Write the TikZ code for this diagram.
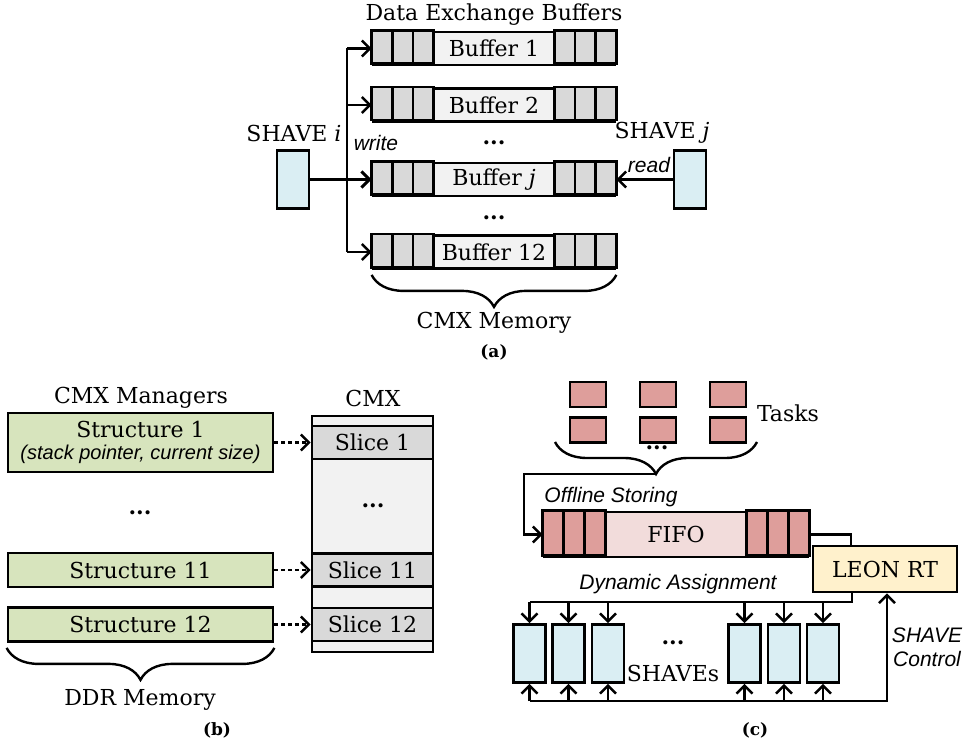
\documentclass[tikz,border=0pt]{standalone}
\usepackage{fontspec}
\setmainfont{DejaVu Serif}
\setsansfont{Liberation Sans}
\usetikzlibrary{arrows.meta, positioning, calc, decorations.pathreplacing}

\definecolor{cellgray}{RGB}{217,217,217}
\definecolor{lightgray}{RGB}{242,242,242}
\definecolor{shaveblue}{RGB}{218,238,243}
\definecolor{mgrgreen}{RGB}{215,228,189}
\definecolor{taskpink}{RGB}{222,158,155}
\definecolor{fifopink}{RGB}{242,220,219}
\definecolor{leonyellow}{RGB}{255,241,204}

\begin{document}
\begin{tikzpicture}[x=1pt, y=-1pt,
        font=\fontsize{22}{25}\selectfont,
        box/.style={rectangle, draw, line width=2.8pt, inner sep=0pt},
        buf/.style={box, fill=lightgray, minimum width=242pt, minimum height=33pt},
        cell/.style={draw, line width=2.8pt, fill=cellgray},
        tcell/.style={draw, line width=2.8pt, fill=taskpink},
        shv/.style={box, fill=shaveblue, minimum width=32pt, minimum height=58pt},
        mgr/.style={box, fill=mgrgreen, minimum width=265pt, minimum height=34pt, align=center},
        slc/.style={box, fill=cellgray, minimum width=121pt, minimum height=33pt},
        tsk/.style={box, fill=taskpink, minimum width=36pt, minimum height=25pt},
        lab/.style={font=\fontsize{21}{24}\selectfont\sffamily\itshape},
        dts/.style={font=\fontsize{22}{25}\selectfont\bfseries},
        arr/.style={-{Straight Barb[length=8pt,width=16pt]}, line width=2.4pt},
        con/.style={line width=2.4pt},
        brc/.style={decorate, decoration={brace, amplitude=32pt, mirror}, line width=2.4pt},
        sub/.style={font=\fontsize{17}{20}\selectfont\bfseries}]
  \useasboundingbox (0,0) rectangle (971,743);

  % (a) data exchange buffers
  \node (dxb) at (494,15) {Data Exchange Buffers};
  \node[buf] (b1) at (494,48.5) {Buffer 1};
  \node[buf] (b2) at (494,105) {Buffer 2};
  \node[buf] (bj) at (494,179.5) {Buffer \textit{j}};
  \node[buf] (b12) at (494,252) {Buffer 12};
  \foreach \b in {b1,b2,bj,b12}
    \foreach \k in {0,1,2} {
      \draw[cell] ($(\b.north west)+(\k*20.7,0)$) rectangle ++(20.7,33);
      \draw[cell] ($(\b.north east)+(-\k*20.7,0)$) rectangle ++(-20.7,33);
    }
  \node[dts] (d1) at (494,143) {...};
  \node[dts] (d2) at (494,218) {...};

  \node[shv] (shi) at (293,179.5) {};
  \node (shil) at (294,133) {SHAVE \textit{i}};
  \node[shv] (shj) at (690,179.5) {};
  \node (shjl) at (662,133) {SHAVE \textit{j}};

  \coordinate (wr) at (347,0);
  \draw[con] (wr |- b1.west) -- (wr |- b12.west);
  \foreach \b in {b1,b2,b12}
    \draw[arr] (wr |- \b.west) -- (\b.west);
  \draw[arr, line width=3pt] (shi) -- (bj);
  \draw[arr] (shj) -- (bj);
  \node[lab] at (376,143) {write};
  \node[lab] at (649,165) {read};

  \draw[brc] ([yshift=-5pt]b12.south west) -- ([yshift=-5pt]b12.south east);
  \node (cmxmem) at (494,323) {CMX Memory};
  \node[sub] at (494,352) {(a)};

  % (b) CMX managers
  \node (cmxm) at (141,398) {CMX Managers};
  \node[mgr, minimum height=59pt] (m1) at (140.5,442.5)
    {Structure 1\\[-3pt]{\fontsize{20}{23}\selectfont\sffamily\itshape (stack pointer, current size)}};
  \node[dts] (md) at (140,513) {...};
  \node[mgr] (m11) at (140.5,570) {Structure 11};
  \node[mgr] (m12) at (140.5,624.5) {Structure 12};
  \draw[brc] ([yshift=-5pt]m12.south west) -- ([yshift=-5pt]m12.south east);
  \node (ddr) at (140,700) {DDR Memory};
  \node[sub] at (217,730) {(b)};

  \node (cmx) at (373,398) {CMX};
  \node[box, fill=lightgray, minimum width=121pt, minimum height=236pt] (cmxb) at (372.5,534) {};
  \node[slc] (c1) at (372.5,442.5) {Slice 1};
  \node[dts] (cd) at (373,506) {...};
  \node[slc] (c11) at (372.5,570) {Slice 11};
  \node[slc] (c12) at (372.5,624.5) {Slice 12};
  \foreach \a/\c in {m1/c1, m11/c11, m12/c12}
    \draw[arr, dash pattern=on 4pt off 3pt] (\a) -- (\c);

  % (c) task scheduling
  \foreach \i/\x in {1/588,2/658,3/728} {
    \node[tsk] (t\i a) at (\x,394.5) {};
    \node[tsk] (t\i b) at (\x,430) {};
  }
  \node (tasks) at (788,413) {Tasks};
  \draw[brc] (555,442) -- (757,442);
  \node[dts] (td) at (657,448) {...};
  \coordinate (tk) at (656,474);
  \node[lab] at (611,497) {Offline Storing};

  \node[box, fill=fifopink, minimum width=264pt, minimum height=45pt] (fifo) at (676,534.5) {FIFO};
  \foreach \k in {0,1,2} {
    \draw[tcell] ($(fifo.north west)+(\k*21,0)$) rectangle ++(21,45);
    \draw[tcell] ($(fifo.north east)+(-\k*21,0)$) rectangle ++(-21,45);
  }
  \draw[arr] (tk) -- ++(-132,0) |- (fifo.west);

  \node[box, fill=leonyellow, minimum width=144pt, minimum height=46pt] (leon) at (885,569) {LEON RT};
  \draw[con] (fifo.east) -| ([xshift=-34pt]leon.north);
  \node[lab] at (678,584) {Dynamic Assignment};

  \foreach \n/\x in {1/529.5,2/568.5,3/608,4/744.5,5/784,6/823}
    \node[shv] (s\n) at (\x,653.5) {};
  \coordinate (da) at (0,602);
  \coordinate (sc) at (0,701);
  \draw[con] ([xshift=-33pt]leon.south) |- (s1.north |- da);
  \foreach \n in {1,...,6}
    \draw[arr] (s\n.north |- da) -- (s\n.north);
  \draw[arr] (s1.south |- sc) -| ([xshift=2pt]leon.south);
  \foreach \n in {1,...,6}
    \draw[arr] (s\n.south |- sc) -- (s\n.south);
  \node[dts] (sd) at (673,643) {...};
  \node (shvs) at (673,673) {SHAVEs};
  \node[lab, align=center] at (927,647) {SHAVE\\[0pt]Control};
  \node[sub] at (755,730) {(c)};
\end{tikzpicture}
\end{document}
